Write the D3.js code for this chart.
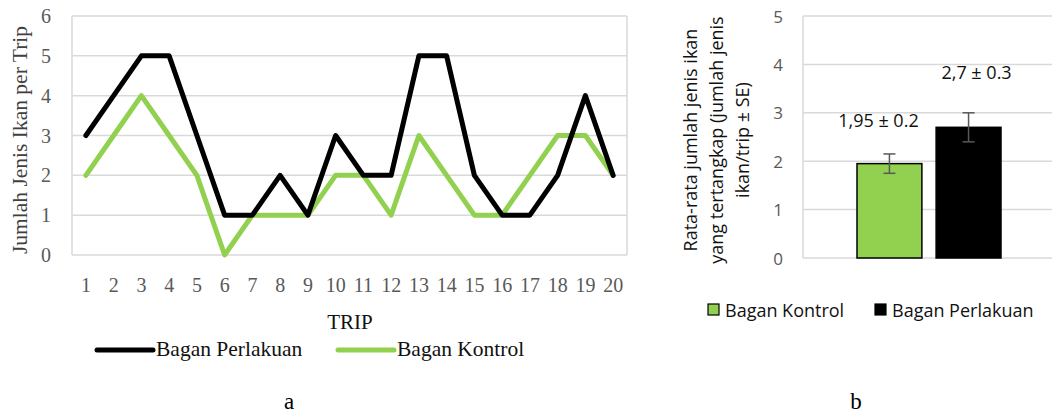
<!DOCTYPE html>
<meta charset="utf-8">
<script src="https://d3js.org/d3.v7.min.js"></script>
<style>
  body { margin: 0; background: #fff; }
</style>
<div id="chart"></div>
<script>

// data: species count per trip
var trips = d3.range(1, 21);
var perlakuan = [3,4,5,5,3,1,1,2,1,3,2,2,5,5,2,1,1,2,4,2];
var kontrol   = [2,3,4,3,2,0,1,1,1,2,2,1,3,2,1,1,2,3,3,2];

// data: means +- SE
var barNames = ["Bagan Kontrol", "Bagan Perlakuan"];
var barMeans = [1.95, 2.7];
var barSE = [0.2, 0.3];
var barLabels = ["1,95 \u00b1 0.2", "2,7 \u00b1 0.3"];

var green = "#92d050";
var serif = "'Liberation Serif', 'DejaVu Serif', serif";
var sans = "'Open Sans', 'Noto Sans', sans-serif";

var svg = d3.select("#chart").append("svg")
  .attr("width", 1052).attr("height", 416);

// ---------- chart a ----------
var x = d3.scaleBand().domain(trips).range([72, 627]);
var y = d3.scaleLinear().domain([0, 6]).range([255, 16]);

var gA = svg.append("g");

gA.selectAll(".gridA")
  .data(y.ticks(6))
  .enter().append("line")
    .attr("x1", 72).attr("x2", 627)
    .attr("y1", d => y(d)).attr("y2", d => y(d))
    .attr("stroke", "#d9d9d9").attr("stroke-width", 1.5);

gA.append("line")
  .attr("x1", 72).attr("x2", 72).attr("y1", 16).attr("y2", 255)
  .attr("stroke", "#d9d9d9").attr("stroke-width", 1.5);
gA.append("line")
  .attr("x1", 627).attr("x2", 627).attr("y1", 16).attr("y2", 255)
  .attr("stroke", "#d9d9d9").attr("stroke-width", 1.5);

gA.selectAll(".ytA")
  .data(y.ticks(6))
  .enter().append("text")
    .attr("x", 51).attr("y", d => y(d))
    .attr("text-anchor", "end")
    .attr("dominant-baseline", "central")
    .style("font-family", serif).style("font-size", "20px")
    .style("fill", "#595959")
    .text(d => d);

gA.selectAll(".xtA")
  .data(trips)
  .enter().append("text")
    .attr("x", d => x(d) + x.bandwidth() / 2).attr("y", 285)
    .attr("text-anchor", "middle")
    .attr("dominant-baseline", "central")
    .style("font-family", serif).style("font-size", "20px")
    .style("fill", "#595959")
    .text(d => d);

var line = d3.line()
  .x((d, i) => x(trips[i]) + x.bandwidth() / 2)
  .y(d => y(d));

gA.append("path").datum(kontrol)
  .attr("d", line).attr("fill", "none")
  .attr("stroke", green).attr("stroke-width", 5)
  .attr("stroke-linejoin", "round").attr("stroke-linecap", "round");

gA.append("path").datum(perlakuan)
  .attr("d", line).attr("fill", "none")
  .attr("stroke", "#000").attr("stroke-width", 5)
  .attr("stroke-linejoin", "round").attr("stroke-linecap", "round");

gA.append("text")
  .attr("transform", "translate(20,140) rotate(-90)")
  .attr("text-anchor", "middle")
  .attr("dominant-baseline", "central")
  .style("font-family", serif).style("font-size", "21.5px")
  .style("fill", "#404040")
  .text("Jumlah Jenis Ikan per Trip");

gA.append("text")
  .attr("x", 350).attr("y", 322)
  .attr("text-anchor", "middle").attr("dominant-baseline", "central")
  .style("font-family", serif).style("font-size", "21px")
  .style("fill", "#111")
  .text("TRIP");

var legA = [
  { name: "Bagan Perlakuan", color: "#000", x: 97 },
  { name: "Bagan Kontrol", color: green, x: 338 }
];
legA.forEach(function(d) {
  gA.append("line")
    .attr("x1", d.x).attr("x2", d.x + 56).attr("y1", 350).attr("y2", 350)
    .attr("stroke", d.color).attr("stroke-width", 5)
    .attr("stroke-linecap", "round");
  gA.append("text")
    .attr("x", d.x + 59).attr("y", 349)
    .attr("dominant-baseline", "central")
    .style("font-family", serif).style("font-size", "21.5px")
    .style("fill", "#111")
    .text(d.name);
});

svg.append("text")
  .attr("x", 289).attr("y", 401)
  .attr("text-anchor", "middle").attr("dominant-baseline", "central")
  .style("font-family", serif).style("font-size", "23px")
  .text("a");

// ---------- chart b ----------
var xb = d3.scaleBand().domain(barNames).range([857, 1001]).paddingInner(0.18);
var yb = d3.scaleLinear().domain([0, 5]).range([258, 16]);

var gB = svg.append("g");

gB.selectAll(".gridB")
  .data(yb.ticks(5))
  .enter().append("line")
    .attr("x1", 803).attr("x2", 1052)
    .attr("y1", d => yb(d)).attr("y2", d => yb(d))
    .attr("stroke", "#d9d9d9").attr("stroke-width", 1.5);

gB.append("line")
  .attr("x1", 803).attr("x2", 803).attr("y1", 16).attr("y2", 258)
  .attr("stroke", "#d9d9d9").attr("stroke-width", 1.5);

gB.selectAll(".ytB")
  .data(yb.ticks(5))
  .enter().append("text")
    .attr("x", 783).attr("y", d => yb(d))
    .attr("text-anchor", "end")
    .attr("dominant-baseline", "central")
    .style("font-family", sans).style("font-size", "17px")
    .style("fill", "#595959")
    .text(d => d);

gB.selectAll(".bar")
  .data(barMeans)
  .enter().append("rect")
    .attr("x", (d, i) => xb(barNames[i]))
    .attr("y", d => yb(d))
    .attr("width", xb.bandwidth())
    .attr("height", d => yb(0) - yb(d))
    .attr("fill", (d, i) => i == 0 ? green : "#000")
    .attr("stroke", "#000").attr("stroke-width", 1.5);

// error bars
barMeans.forEach(function(m, i) {
  var cx = xb(barNames[i]) + xb.bandwidth() / 2;
  gB.append("line")
    .attr("x1", cx).attr("x2", cx)
    .attr("y1", yb(m + barSE[i])).attr("y2", yb(m - barSE[i]))
    .attr("stroke", "#595959").attr("stroke-width", 1.5);
  [m + barSE[i], m - barSE[i]].forEach(function(v) {
    gB.append("line")
      .attr("x1", cx - 6).attr("x2", cx + 6)
      .attr("y1", yb(v)).attr("y2", yb(v))
      .attr("stroke", "#595959").attr("stroke-width", 1.5);
  });
});

// value labels
var labelPos = [{ dx: -11, v: 2.85 }, { dx: 8, v: 3.85 }];
barLabels.forEach(function(t, i) {
  gB.append("text")
    .attr("x", xb(barNames[i]) + xb.bandwidth() / 2 + labelPos[i].dx)
    .attr("y", yb(labelPos[i].v))
    .attr("text-anchor", "middle").attr("dominant-baseline", "central")
    .style("font-family", sans).style("font-size", "18px")
    .style("fill", "#111")
    .text(t);
});

var titleLines = ["Rata-rata jumlah jenis ikan", "yang tertangkap (jumlah jenis", "ikan/trip \u00b1 SE)"];
titleLines.forEach(function(t, i) {
  gB.append("text")
    .attr("transform", "translate(" + (690 + i * 26) + ",140) rotate(-90)")
    .attr("text-anchor", "middle").attr("dominant-baseline", "central")
    .style("font-family", sans).style("font-size", "18px")
    .style("fill", "#111")
    .text(t);
});

var legB = [
  { name: "Bagan Kontrol", color: green, x: 708 },
  { name: "Bagan Perlakuan", color: "#000", x: 875 }
];
legB.forEach(function(d) {
  gB.append("rect")
    .attr("x", d.x).attr("y", 304).attr("width", 11).attr("height", 11)
    .attr("fill", d.color).attr("stroke", "#000").attr("stroke-width", 1.2);
  gB.append("text")
    .attr("x", d.x + 17).attr("y", 310)
    .attr("dominant-baseline", "central")
    .style("font-family", sans).style("font-size", "18px")
    .style("fill", "#111")
    .text(d.name);
});

svg.append("text")
  .attr("x", 856).attr("y", 401)
  .attr("text-anchor", "middle").attr("dominant-baseline", "central")
  .style("font-family", serif).style("font-size", "23px")
  .text("b");

</script>
